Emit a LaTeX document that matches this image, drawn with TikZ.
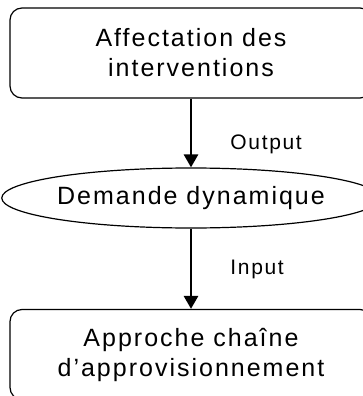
\documentclass[tikz,border=0pt]{standalone}
\usepackage{fontspec}
\setmainfont{Liberation Sans}[LetterSpace=8]
\usetikzlibrary{shapes.geometric,arrows.meta}
\begin{document}
\begin{tikzpicture}[x=1pt,y=-1pt,
  box node/.style={draw,rounded corners=12pt,line width=1.2pt,minimum width=362pt,minimum height=90pt,align=center,font=\fontsize{25}{30}\selectfont},
  oval node/.style={draw,ellipse,line width=1.2pt,minimum width=315pt,minimum height=60pt,inner sep=0pt,font=\fontsize{25}{30}\selectfont},
  lbl/.style={anchor=west,inner sep=0pt,xshift=38pt,font=\fontsize{21}{25}\selectfont}]
  \useasboundingbox (0,0) rectangle (363,396);
  \clip (0,0) rectangle (363,396);

  \node[box node] (1) at (191,53) {Affectation des\\ interventions};
  \node[oval node] (2) at (191,198) {Demande dynamique};
  \node[box node] (3) at (191,354.5) {Approche chaîne\\d’approvisionnement};

  \path[line width=2.8pt,-{Triangle[width=14pt,length=13pt]}]
   (1) edge node[lbl,pos=0.67]{Output} (2)
   (2) edge node[lbl,pos=0.51]{Input} (3);
\end{tikzpicture}
\end{document}
